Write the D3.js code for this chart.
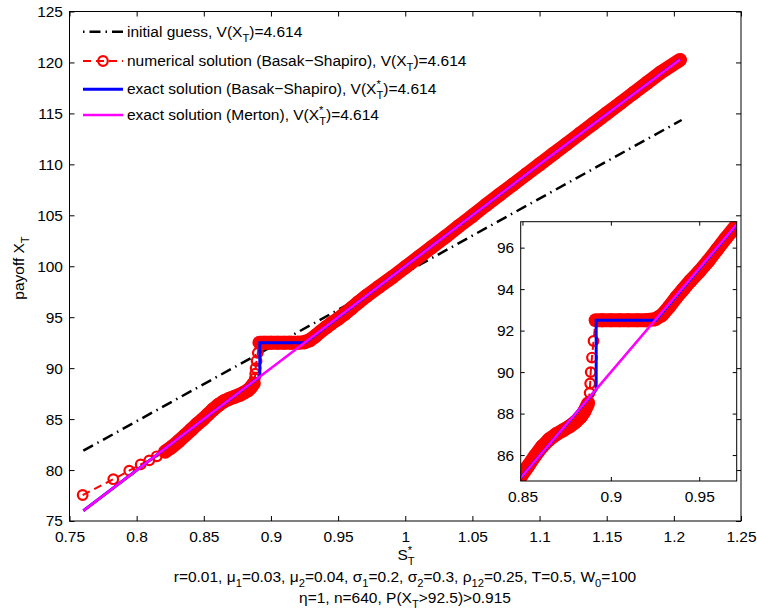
<!DOCTYPE html>
<html>
<head>
<meta charset="utf-8">
<script src="https://cdnjs.cloudflare.com/ajax/libs/d3/7.8.5/d3.min.js"></script>
<style>
body { margin: 0; background: #fff; }
svg { font-family: "Liberation Sans", Arial, sans-serif; font-size: 15.5px; }
.axis .domain { display: none; }
.axis line { stroke: #000; }
.axis text { fill: #000; font-size: 15.5px; font-family: "Liberation Sans", Arial, sans-serif; }
</style>
</head>
<body>
<svg width="757" height="612"></svg>
<script>
// initial guess (dash-dot, black)
var guessS = [0.7603, 1.2058];
var guessX = [81.9, 114.35];

// numerical solution (Basak-Shapiro), red --o
var numS = [0.7598, 0.7826, 0.7945, 0.8030, 0.8094, 0.8150, 0.8211,
  0.826, 0.831, 0.836, 0.841, 0.845, 0.849, 0.853, 0.857, 0.861, 0.865, 0.869,
  0.873, 0.877, 0.880, 0.883, 0.885, 0.8872,
  0.8880, 0.8883, 0.8886, 0.8893, 0.8902, 0.8914,
  0.895, 0.900, 0.905, 0.910, 0.915, 0.920, 0.925, 0.929,
  0.933, 0.937, 0.941, 0.945, 0.950, 0.955, 0.960, 0.965, 0.9712,
  0.980, 0.990, 1.000, 1.010, 1.020, 1.030, 1.040, 1.050, 1.060, 1.070, 1.080,
  1.090, 1.100, 1.110, 1.120, 1.130, 1.140, 1.150, 1.160, 1.170, 1.180, 1.190, 1.2046];
var numX = [77.55, 79.10, 79.94, 80.55, 80.95, 81.35, 81.80,
  82.25, 82.80, 83.40, 84.00, 84.50, 84.95, 85.45, 85.95, 86.40, 86.75, 87.00,
  87.20, 87.40, 87.60, 87.85, 88.10, 88.50,
  89.00, 89.45, 90.00, 90.70, 91.50, 92.50,
  92.50, 92.50, 92.50, 92.50, 92.50, 92.50, 92.55, 92.75,
  93.15, 93.60, 94.00, 94.40, 94.85, 95.35, 95.90, 96.45, 97.10,
  97.95, 98.90, 99.90, 100.90, 101.90, 102.90, 103.95, 104.95, 106.00, 107.00, 108.00,
  109.00, 110.00, 111.00, 112.00, 113.00, 114.00, 115.00, 116.00, 117.00, 118.00, 119.00, 120.25];

// exact solution (Basak-Shapiro), blue
var bsS = [0.7603, 0.8500, 0.8917, 0.8917, 0.9255, 1.0000, 1.1000, 1.2046];
var bsX = [76.0, 85.0, 89.15, 92.5, 92.5, 100.0, 110.0, 120.3];

// exact solution (Merton), magenta
var mertonS = [0.7603, 0.8500, 0.9000, 1.0000, 1.1000, 1.2046];
var mertonX = [76.0, 85.0, 90.0, 100.0, 110.0, 120.3];

var xTicks = [0.75, 0.8, 0.85, 0.9, 0.95, 1, 1.05, 1.1, 1.15, 1.2, 1.25];
var yTicks = [75, 80, 85, 90, 95, 100, 105, 110, 115, 120, 125];
var insetXTicks = [0.85, 0.9, 0.95];
var insetYTicks = [86, 88, 90, 92, 94, 96];

var svg = d3.select("svg");
var FS = 15.5;

// main axes box
var box = {left: 69.5, right: 741, top: 11.5, bottom: 521};
var x = d3.scaleLinear().domain([0.75, 1.25]).range([box.left, box.right]);
var y = d3.scaleLinear().domain([75, 125]).range([box.bottom, box.top]);

// inset box
var ibox = {left: 520.7, right: 736.7, top: 221.7, bottom: 481};
var ix = d3.scaleLinear().domain([0.8490, 0.9712]).range([ibox.left, ibox.right]);
var iy = d3.scaleLinear().domain([84.75, 97.25]).range([ibox.bottom, ibox.top]);

function zip(a, b) { return a.map(function(v, i) { return [v, b[i]]; }); }

function rich(el, parts, fs) {
  var shift = 0;
  parts.forEach(function(p) {
    var want = p[1] == "sub" ? fs * 0.32 : p[1] == "sup" ? -fs * 0.4 : 0;
    var t = el.append("tspan").attr("dy", want - shift).text(p[0]);
    if (p[1]) t.attr("font-size", fs * 0.72);
    if (p[2]) t.attr("dx", p[2]);
    shift = want;
  });
}

function drawAxes(g, sx, sy, b, xt, yt, tick) {
  g.append("rect").attr("x", b.left).attr("y", b.top)
    .attr("width", b.right - b.left).attr("height", b.bottom - b.top)
    .attr("fill", "#fff");
  g.append("g").attr("class", "axis").attr("transform", "translate(0," + b.bottom + ")")
    .call(d3.axisBottom(sx).tickValues(xt).tickSizeInner(-tick).tickSizeOuter(0).tickPadding(10).tickFormat(d3.format("~g")));
  g.append("g").attr("class", "axis").attr("transform", "translate(0," + b.top + ")")
    .call(d3.axisTop(sx).tickValues(xt).tickSizeInner(-tick).tickSizeOuter(0).tickFormat(""));
  g.append("g").attr("class", "axis").attr("transform", "translate(" + b.left + ",0)")
    .call(d3.axisLeft(sy).tickValues(yt).tickSizeInner(-tick).tickSizeOuter(0).tickPadding(6.5).tickFormat(d3.format("d")));
  g.append("g").attr("class", "axis").attr("transform", "translate(" + b.right + ",0)")
    .call(d3.axisRight(sy).tickValues(yt).tickSizeInner(-tick).tickSizeOuter(0).tickFormat(""));
}

function frame(g, b) {
  g.append("rect").attr("x", b.left).attr("y", b.top)
    .attr("width", b.right - b.left).attr("height", b.bottom - b.top)
    .attr("fill", "none").attr("stroke", "#000").attr("stroke-width", 1);
}

function drawSeries(g, sx, sy, withGuess) {
  var line = d3.line().x(function(d) { return sx(d[0]); }).y(function(d) { return sy(d[1]); });

  if (withGuess) {
    g.append("path").datum(zip(guessS, guessX)).attr("d", line)
      .attr("fill", "none").attr("stroke", "#000").attr("stroke-width", 2.5)
      .attr("stroke-dasharray", "11,5,1.5,5");
  }

  var num = zip(numS, numX);
  // dense markers merge into a solid band
  var red = g.append("g");
  for (var i = 1; i < num.length; i++) {
    var a = num[i - 1], b = num[i];
    var slope = (b[1] - a[1]) / (b[0] - a[0]);
    if (a[0] >= 0.82 && slope < 300) {
      red.append("path").datum([a, b]).attr("d", line)
        .attr("fill", "none").attr("stroke", "#ff0000").attr("stroke-width", 14)
        .attr("stroke-linecap", "round");
    }
  }
  red.append("path").datum(num).attr("d", line)
    .attr("fill", "none").attr("stroke", "#ff0000").attr("stroke-width", 2)
    .attr("stroke-dasharray", "8,5");
  red.selectAll("circle").data(num).enter().append("circle")
    .attr("cx", function(d) { return sx(d[0]); })
    .attr("cy", function(d) { return sy(d[1]); })
    .attr("r", 4.8).attr("fill", "none").attr("stroke", "#ff0000").attr("stroke-width", 2.2);

  g.append("path").datum(zip(bsS, bsX)).attr("d", line)
    .attr("fill", "none").attr("stroke", "#0000ff").attr("stroke-width", 3);

  g.append("path").datum(zip(mertonS, mertonX)).attr("d", line)
    .attr("fill", "none").attr("stroke", "#ff00ff").attr("stroke-width", 2.5);
}

// ---- main plot
var main = svg.append("g");
drawAxes(main, x, y, box, xTicks, yTicks, 5);
drawSeries(main, x, y, true);
frame(main, box);

// ---- legend
var legendRows = [31.7, 61, 89.3, 115];
var lg = svg.append("g");
lg.append("line").attr("x1", 83).attr("x2", 123).attr("y1", legendRows[0]).attr("y2", legendRows[0])
  .attr("stroke", "#000").attr("stroke-width", 2.5).attr("stroke-dasharray", "1.5,5,11,5");
lg.append("line").attr("x1", 83).attr("x2", 123).attr("y1", legendRows[1]).attr("y2", legendRows[1])
  .attr("stroke", "#ff0000").attr("stroke-width", 2).attr("stroke-dasharray", "8,5");
lg.append("circle").attr("cx", 103).attr("cy", legendRows[1]).attr("r", 4.8)
  .attr("fill", "none").attr("stroke", "#ff0000").attr("stroke-width", 2.2);
lg.append("line").attr("x1", 83).attr("x2", 123).attr("y1", legendRows[2]).attr("y2", legendRows[2])
  .attr("stroke", "#0000ff").attr("stroke-width", 3);
lg.append("line").attr("x1", 83).attr("x2", 123).attr("y1", legendRows[3]).attr("y2", legendRows[3])
  .attr("stroke", "#ff00ff").attr("stroke-width", 2.5);

var legendText = [
  [["initial guess, V(X"], ["T", "sub"], [")=4.614"]],
  [["numerical solution (Basak\u2212Shapiro), V(X"], ["T", "sub"], [")=4.614"]],
  [["exact solution (Basak\u2212Shapiro), V(X"], ["*", "sup"], ["T", "sub", -4.3], [")=4.614"]],
  [["exact solution (Merton), V(X"], ["*", "sup"], ["T", "sub", -4.3], [")=4.614"]]
];
legendText.forEach(function(parts, i) {
  var t = lg.append("text").attr("x", 127).attr("y", legendRows[i] + 5);
  rich(t, parts, FS);
});

// ---- inset
var inset = svg.append("g");
inset.append("clipPath").attr("id", "iclip").append("rect")
  .attr("x", ibox.left).attr("y", ibox.top)
  .attr("width", ibox.right - ibox.left).attr("height", ibox.bottom - ibox.top);
drawAxes(inset, ix, iy, ibox, insetXTicks, insetYTicks, 4);
var ig = inset.append("g").attr("clip-path", "url(#iclip)");
drawSeries(ig, ix, iy, false);
frame(inset, ibox);

// ---- labels
var yl = svg.append("text").attr("text-anchor", "middle")
  .attr("transform", "translate(24,268) rotate(-90)");
rich(yl, [["payoff X"], ["T", "sub"]], FS);

var xl = svg.append("text").attr("text-anchor", "middle").attr("x", 406).attr("y", 560);
rich(xl, [["S"], ["*", "sup"], ["T", "sub", -4.3]], FS);

var l1 = svg.append("text").attr("text-anchor", "middle").attr("x", 405).attr("y", 582);
rich(l1, [["r=0.01, \u03bc"], ["1", "sub"], ["=0.03, \u03bc"], ["2", "sub"], ["=0.04, \u03c3"], ["1", "sub"],
  ["=0.2, \u03c3"], ["2", "sub"], ["=0.3, \u03c1"], ["12", "sub"], ["=0.25, T=0.5, W"], ["0", "sub"], ["=100"]], FS);

var l2 = svg.append("text").attr("text-anchor", "middle").attr("x", 405).attr("y", 603);
rich(l2, [["\u03b7=1, n=640, P(X"], ["T", "sub"], [">92.5)>0.915"]], FS);
</script>
</body>
</html>
